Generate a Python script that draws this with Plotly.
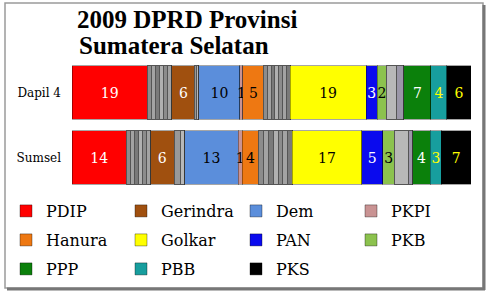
import plotly.graph_objects as go

categories = ["Dapil 4", "Sumsel"]

# named parties: vote share (%) per category
pdip = [18.85, 13.6]
gerindra = [5.75, 5.85]
dem = [10.25, 13.35]
pkpi = [0.75, 1.0]
hanura = [5.25, 4.15]
golkar = [19.0, 17.25]
pan = [2.75, 5.25]
pkb = [2.45, 3.0]
ppp = [6.75, 4.4]
pbb = [4.0, 2.75]
pks = [6.0, 7.4]

# other (unlisted) parties, grey blocks
others_a = [[1.1, 1.0], [1.0, 0.9], [0.9, 1.1], [1.0, 1.0], [1.1, 1.0], [1.0, 1.0]]
others_b = [[0.5, 1.6], [0.5, 1.05]]
others_c = [[0.9, 1.2], [1.0, 1.3], [0.8, 1.1], [1.0, 1.2], [0.9, 1.2], [1.0, 1.2], [0.9, 1.2]]
others_d = [[2.5, 3.5], [1.75, 1.0]]

legend_rows = [["PDIP", "Gerindra", "Dem", "PKPI"],
               ["Hanura", "Golkar", "PAN", "PKB"],
               ["PPP", "PBB", "PKS"]]

title_lines = ["2009 DPRD Provinsi", "Sumatera Selatan"]

SERIF = "DejaVu Serif"
fig = go.Figure()

def legend_of(name):
    for i, row in enumerate(legend_rows):
        if name in row:
            return ("legend" if i == 0 else f"legend{i + 1}"), row.index(name)

def party(name, vals, color, tcolor):
    lg, rank = legend_of(name)
    fig.add_trace(go.Bar(
        name=name, y=categories, x=vals, orientation="h",
        marker=dict(color=color, line=dict(color="rgba(0,0,0,0.35)", width=1)),
        text=[f"{v:.0f}" for v in vals], texttemplate="%{text}",
        textposition="inside", insidetextanchor="middle", textangle=0,
        textfont=dict(color=tcolor, family=SERIF, size=14),
        showlegend=True, legend=lg, legendrank=rank))

def grey(block, colors):
    for i, vals in enumerate(block):
        fig.add_trace(go.Bar(
            y=categories, x=vals, orientation="h", showlegend=False,
            marker=dict(color=colors[i % len(colors)], line=dict(color="#555555", width=1)),
            hoverinfo="skip"))

greys = ["#8c8c8c", "#a3a3a3", "#7a7a7a", "#b0b0b0"]

party("PDIP", pdip, "#FF0000", "white")
grey(others_a, greys)
party("Gerindra", gerindra, "#A0500F", "white")
grey(others_b, ["#999999", "#b8b8b8"])
party("Dem", dem, "#5B8EDB", "black")
party("PKPI", pkpi, "#C99393", "black")
party("Hanura", hanura, "#EE7812", "black")
grey(others_c, greys)
party("Golkar", golkar, "#FFFF00", "black")
party("PAN", pan, "#0A0AEE", "white")
party("PKB", pkb, "#8CC24E", "black")
grey(others_d, ["#b8b8b8", "#9b97a8"])
party("PPP", ppp, "#0B800B", "white")
party("PBB", pbb, "#179E9E", "#FFFF00")
party("PKS", pks, "#000000", "#FFFF00")

def px(x):
    return (x - 72) / 399

def py(y):
    return (190 - y) / 130

def leg(ytop):
    return dict(orientation="h", x=px(6), xanchor="left", y=py(ytop), yanchor="top",
                entrywidth=70, traceorder="normal",
                font=dict(family=SERIF, size=16, color="black"),
                bgcolor="rgba(0,0,0,0)", itemclick=False)

fig.update_layout(
    width=489, height=293,
    margin=dict(l=72, r=18, t=60, b=103, autoexpand=False),
    barmode="stack", barnorm="percent", bargap=0.17,
    paper_bgcolor="white", plot_bgcolor="white",
    uniformtext=dict(mode="show", minsize=14),
    title=dict(text="<b>" + title_lines[0] + "</b>",
               x=77 / 489, xanchor="left", xref="container",
               y=1 - 19 / 293, yanchor="middle", yref="container",
               font=dict(family="Liberation Serif", size=25, color="black")),
    annotations=[dict(text="<b>" + title_lines[1] + "</b>", showarrow=False,
                      xref="paper", yref="paper", x=px(77), y=py(46),
                      xanchor="left", yanchor="middle",
                      font=dict(family="Liberation Serif", size=25, color="black"))],
    xaxis=dict(range=[0, 100], visible=False, fixedrange=True),
    yaxis=dict(autorange="reversed", showgrid=False, showline=False, ticks="",
               ticklabelstandoff=10,
               tickfont=dict(family=SERIF, size=12, color="black")),
    legend=leg(194),
    legend2=leg(223),
    legend3=leg(252),
    showlegend=True,
    shapes=[
        dict(type="rect", xref="paper", yref="paper",
             x0=px(5), x1=px(483), y0=py(3), y1=py(288),
             line=dict(color="#9a9a9a", width=1.5), layer="below"),
        dict(type="line", xref="paper", yref="paper",
             x0=px(484), x1=px(484), y0=py(5), y1=py(290),
             line=dict(color="#777777", width=3)),
        dict(type="line", xref="paper", yref="paper",
             x0=px(7), x1=px(485), y0=py(289), y1=py(289),
             line=dict(color="#777777", width=3)),
    ],
)

fig.write_html("out.html")
